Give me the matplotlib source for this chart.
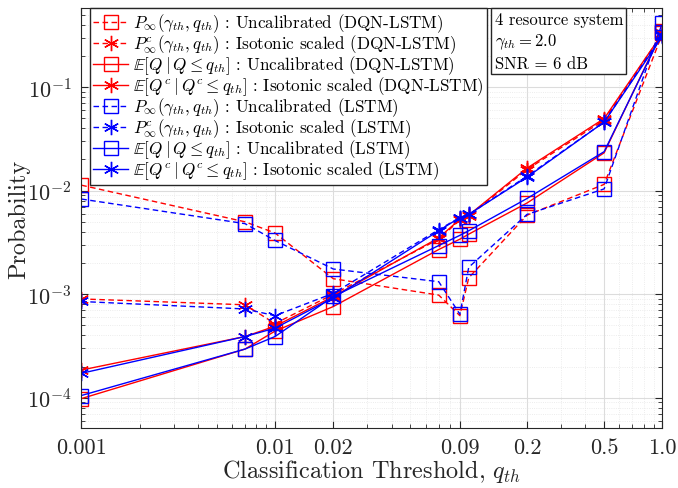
import numpy as np
import matplotlib
matplotlib.use("Agg")
import matplotlib.pyplot as plt
from matplotlib.ticker import FixedLocator, FixedFormatter, LogLocator, NullFormatter

plt.rcParams['font.family'] = 'serif'
plt.rcParams['font.serif'] = ['cmr10']
plt.rcParams['mathtext.fontset'] = 'cm'
plt.rcParams['axes.formatter.use_mathtext'] = True

# classification thresholds q_th
q_th = [0.001, 0.007, 0.01, 0.02, 0.07, 0.09, 0.1, 0.2, 0.5, 1.0]

# DQN-LSTM (red)
p_unc_dqn = [0.0113, 0.0050, 0.0039, 0.00141, 0.00098, 0.00062, 0.00144, 0.0058, 0.0115, 0.33]
p_iso_dqn = [9.0e-4, 7.9e-4, 5.2e-4, 1.0e-3, 0.0034, 0.0052, 0.0057, 0.0160, 0.048, 0.33]
e_unc_dqn = [9.8e-5, 2.95e-4, 4.4e-4, 7.6e-4, 0.0027, 0.0034, 0.0038, 0.0076, 0.0232, 0.35]
e_iso_dqn = [1.85e-4, 3.9e-4, 4.9e-4, 9.5e-4, 0.0035, 0.0053, 0.0058, 0.0165, 0.0497, 0.33]

# LSTM (blue)
p_unc_lstm = [0.0083, 0.0048, 0.0033, 0.00175, 0.00132, 0.00064, 0.00182, 0.0059, 0.0104, 0.42]
p_iso_lstm = [8.5e-4, 7.2e-4, 6.2e-4, 1.02e-3, 0.0042, 0.0055, 0.0059, 0.0138, 0.046, 0.32]
e_unc_lstm = [1.05e-4, 2.95e-4, 3.9e-4, 9.5e-4, 0.00295, 0.0037, 0.0041, 0.0084, 0.0238, 0.34]
e_iso_lstm = [1.72e-4, 3.9e-4, 4.7e-4, 9.2e-4, 0.0041, 0.0055, 0.0059, 0.0135, 0.046, 0.31]

xticks = [0.001, 0.01, 0.02, 0.09, 0.2, 0.5, 1.0]
xticklabels = ['0.001', '0.01', '0.02', '0.09', '0.2', '0.5', '1.0']

lbl_p = r'$P_{\infty}(\gamma_{th}, q_{th})$'
lbl_pc = r'$P^{c}_{\infty}(\gamma_{th}, q_{th})$'
lbl_e = r'$\mathbb{E}[Q \mid Q \leq q_{th}]$'
lbl_ec = r'$\mathbb{E}[Q^{c} \mid Q^{c} \leq q_{th}]$'

fig = plt.figure(figsize=(6.78, 4.89), dpi=100)
ax = fig.add_axes([0.1199, 0.1227, 0.8572, 0.8583])

star = (6, 2, 0)
dash = (4, 2.5)
series = [
    (p_unc_dqn, 'r', '--', 's', lbl_p + ' : Uncalibrated (DQN-LSTM)'),
    (p_iso_dqn, 'r', '--', star, lbl_pc + ' : Isotonic scaled (DQN-LSTM)'),
    (e_unc_dqn, 'r', '-', 's', lbl_e + ' : Uncalibrated (DQN-LSTM)'),
    (e_iso_dqn, 'r', '-', star, lbl_ec + ' : Isotonic scaled (DQN-LSTM)'),
    (p_unc_lstm, 'b', '--', 's', lbl_p + ' : Uncalibrated (LSTM)'),
    (p_iso_lstm, 'b', '--', star, lbl_pc + ' : Isotonic scaled (LSTM)'),
    (e_unc_lstm, 'b', '-', 's', lbl_e + ' : Uncalibrated (LSTM)'),
    (e_iso_lstm, 'b', '-', star, lbl_ec + ' : Isotonic scaled (LSTM)'),
]
for y, c, ls, mk, lab in series:
    line, = ax.plot(q_th, y, color=c, linestyle=ls, marker=mk, markersize=10 if mk == 's' else 11,
                    markerfacecolor='none', markeredgecolor=c, markeredgewidth=1.0,
                    linewidth=1.0, label=lab)
    if ls == '--':
        line.set_dashes(dash)

ax.set_xscale('log')
ax.set_yscale('log')
ax.set_xlim(0.001, 1.0)
ax.set_ylim(5.1e-5, 0.577)

ax.xaxis.set_major_locator(FixedLocator(xticks))
ax.xaxis.set_major_formatter(FixedFormatter(xticklabels))
ax.xaxis.set_minor_locator(LogLocator(base=10, subs=np.arange(2, 10)))
ax.xaxis.set_minor_formatter(NullFormatter())
ax.yaxis.set_major_locator(LogLocator(base=10, numticks=10))
ax.yaxis.set_minor_locator(LogLocator(base=10, subs=np.arange(2, 10), numticks=10))
ax.yaxis.set_minor_formatter(NullFormatter())

ax.tick_params(which='both', direction='in', top=True, right=True, colors='#262626')
ax.tick_params(which='major', length=5, labelsize=16, labelcolor='#262626', pad=7)
ax.tick_params(which='minor', length=3)
for s in ax.spines.values():
    s.set_color('#262626')
    s.set_linewidth(0.8)

ax.grid(True, which='major', color='#dcdcdc', linewidth=0.8)
ax.grid(True, which='minor', color='#e6e6e6', linestyle=':', linewidth=0.6)
ax.set_axisbelow(True)

ax.set_xlabel(r'Classification Threshold, $q_{th}$', fontsize=17.5, color='#262626')
ax.set_ylabel('Probability', fontsize=17.5, color='#262626')
ax.xaxis.set_label_coords(0.5, -0.069)
ax.yaxis.set_label_coords(-0.088, 0.5)

leg = ax.legend(loc='upper left', bbox_to_anchor=(0.015, 1.0), borderaxespad=0.0,
                fontsize=12.3, fancybox=False, framealpha=1.0, edgecolor='#262626',
                handlelength=2.0, handletextpad=0.3, borderpad=0.2, labelspacing=-0.1)
leg.get_frame().set_linewidth(1.0)

ax.text(0.711, 0.993, '4 resource system\n' + r'$\gamma_{th} = 2.0$' + '\nSNR = 6 dB',
        transform=ax.transAxes, ha='left', va='top', fontsize=12, linespacing=1.35,
        bbox=dict(boxstyle='square,pad=0.2', fc='white', ec='#262626', lw=1.0))

fig.savefig('out.png', dpi=100)
